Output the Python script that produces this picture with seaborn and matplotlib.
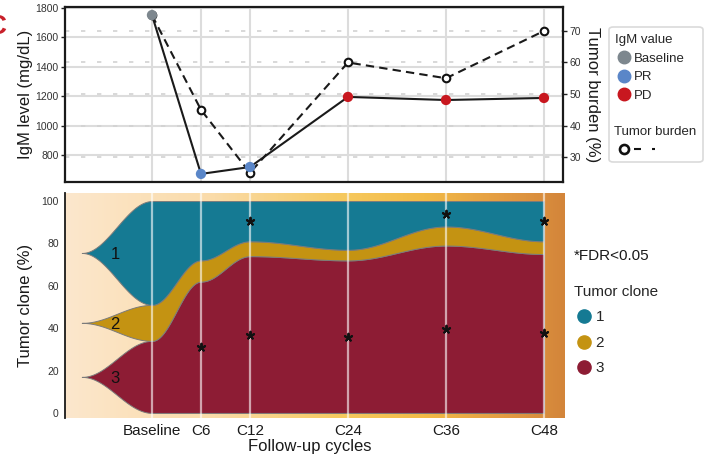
import numpy as np
import pandas as pd
import matplotlib
matplotlib.use("Agg")
import matplotlib.pyplot as plt
import seaborn as sns
from matplotlib.lines import Line2D
from matplotlib.patches import FancyBboxPatch
from matplotlib.legend_handler import HandlerLine2D
from matplotlib.colors import LinearSegmentedColormap
from matplotlib.transforms import blended_transform_factory

# ---- data -------------------------------------------------------------
cycles = ["Baseline", "C6", "C12", "C24", "C36", "C48"]
cycle_pos = [0, 6, 12, 24, 36, 48]

igm_level = [1752, 671, 718, 1195, 1174, 1188]          # mg/dL
igm_status = ["Baseline", "PR", "PR", "PD", "PD", "PD"]
tumor_burden = [75, 45, 25, 60, 55, 70]                 # %

clone1 = [49, 28, 19, 23, 12, 19]                       # % of tumor
clone2 = [17, 10, 7, 5, 9, 6]
clone3 = [34, 62, 74, 72, 79, 75]
clone1_sig = [False, False, True, False, True, True]    # FDR < 0.05
clone3_sig = [False, True, True, True, True, True]

status_palette = {"Baseline": "#7D878E", "PR": "#5A86C8", "PD": "#C8171F"}
clone_colors = {"1": "#157A93", "2": "#C49312", "3": "#8D1C34"}
STREAM_START = -8.6

# ---- style ------------------------------------------------------------
sns.set_style("white")
plt.rcParams["font.family"] = ["Liberation Sans", "DejaVu Sans"]
plt.rcParams["axes.linewidth"] = 1.4

W, H = 711, 461
fig = plt.figure(figsize=(W / 100, H / 100), dpi=100)


def fig_rect(x0, y0, x1, y1):
    return [x0 / W, 1 - y1 / H, (x1 - x0) / W, (y1 - y0) / H]


# ---- top panel: IgM level and tumor burden -----------------------------
ax = fig.add_axes(fig_rect(65, 7, 563, 182))
axb = ax.twinx()
ax.set_zorder(axb.get_zorder() + 1)
ax.patch.set_visible(False)

ax.set_xlim(-10.65, 50.33)
ax.set_ylim(616, 1807)
axb.set_ylim(22.1, 77.6)

igm_ticks = list(range(800, 1801, 200))
burden_ticks = list(range(30, 71, 10))

# grid lines sit on the lower (burden) axes so every line is drawn over them
left_grid = blended_transform_factory(axb.transAxes, ax.transData)
for v in igm_ticks:
    axb.plot([0, 1], [v, v], transform=left_grid, color="#DCDCDC", lw=1.5, zorder=0)
for v in burden_ticks:
    axb.axhline(v, color="#D2D2D2", lw=1.2, ls=(0, (2.6, 7)), zorder=0)
for p in cycle_pos:
    axb.axvline(p, color="#DCDCDC", lw=1.5, zorder=0)

top_df = pd.DataFrame({"pos": cycle_pos, "igm": igm_level,
                       "status": igm_status, "burden": tumor_burden})

sns.lineplot(data=top_df, x="pos", y="burden", ax=axb, color="#1a1a1a",
             lw=1.5, linestyle=(0, (4, 2.5)), sort=False, zorder=3)
sns.scatterplot(data=top_df, x="pos", y="burden", ax=axb, color="white",
                edgecolor="#111111", linewidth=1.5, s=30, zorder=4, legend=False)
sns.lineplot(data=top_df, x="pos", y="igm", ax=ax, color="#1a1a1a",
             lw=1.5, sort=False, zorder=3)
sns.scatterplot(data=top_df, x="pos", y="igm", hue="status",
                palette=status_palette, ax=ax, s=55, edgecolor="none",
                zorder=4, legend=False)

ax.set_xticks(cycle_pos)
ax.set_xticklabels([])
ax.set_yticks(igm_ticks)
axb.set_yticks(burden_ticks)
for a in (ax, axb):
    a.tick_params(axis="both", direction="out", length=3, width=1,
                  color="#222222", labelsize=7.5, labelcolor="#333333", pad=1.5)
    a.set_xlabel("")
for s in ax.spines.values():
    s.set_visible(True)
    s.set_color("#1a1a1a")
    s.set_linewidth(1.6)
for s in axb.spines.values():
    s.set_visible(False)

ax.set_ylabel("IgM level (mg/dL)", fontsize=12, color="#1a1a1a")
ax.yaxis.set_label_coords(-0.064, 0.5)
axb.set_ylabel("Tumor burden (%)", fontsize=12, rotation=270,
               va="bottom", color="#1a1a1a")
axb.yaxis.set_label_coords(1.044, 0.5)

# ---- bottom panel: clonal composition stream ---------------------------
axc = fig.add_axes(fig_rect(65, 193, 565, 418))
axc.set_xlim(-10.65, 50.57)
axc.set_ylim(-2.4, 103.8)

bg_cmap = LinearSegmentedColormap.from_list(
    "bg", [(0.0, "#FCE7CD"), (0.3, "#FADBA8"), (0.55, "#F6C95F"),
           (0.72, "#F2BA47"), (0.88, "#E39B42"), (1.0, "#D3853A")])
axc.imshow(np.linspace(0, 1, 512).reshape(1, -1), extent=[0, 1, 0, 1],
           transform=axc.transAxes, aspect="auto", cmap=bg_cmap, zorder=0)


def eased(xk, yk, n=80):
    """Join consecutive knots with cosine easing."""
    xs, ys = [], []
    last = len(xk) - 2
    for i in range(len(xk) - 1):
        t = np.linspace(0, 1, n, endpoint=(i == last))
        e = (1 - np.cos(np.pi * t)) / 2
        xs.append(xk[i] + (xk[i + 1] - xk[i]) * t)
        ys.append(yk[i] + (yk[i + 1] - yk[i]) * e)
    return np.concatenate(xs), np.concatenate(ys)


c1 = np.array(clone1, float)
c2 = np.array(clone2, float)
c3 = np.array(clone3, float)
b0 = np.zeros_like(c3)
b1 = c3
b2 = c3 + c2
b3 = c3 + c2 + c1

knots_x = [STREAM_START] + cycle_pos
layers = [("3", b0, b1), ("2", b1, b2), ("1", b2, b3)]
for name, lo, hi in layers:
    origin = (lo[0] + hi[0]) / 2
    xs, ylo = eased(knots_x, np.r_[origin, lo])
    _, yhi = eased(knots_x, np.r_[origin, hi])
    axc.fill_between(xs, ylo, yhi, facecolor=clone_colors[name],
                     edgecolor="#7B7B7B", lw=0.7, zorder=2)
    axc.text(-4.5, origin, name, fontsize=12, ha="center",
             va="center_baseline", color="#111111", zorder=4)

for p in cycle_pos:
    axc.axvline(p, color="white", alpha=0.6, lw=1.6, zorder=3)

star_x, star_y = [], []
for i, p in enumerate(cycle_pos):
    if clone1_sig[i]:
        star_x.append(p)
        star_y.append((b2[i] + b3[i]) / 2)
    if clone3_sig[i]:
        star_x.append(p)
        star_y.append((b0[i] + b1[i]) / 2)
axc.scatter(star_x, star_y, marker=(5, 2, 0), s=30, linewidths=1.4,
            color="#111111", zorder=5)

axc.set_xticks(cycle_pos)
axc.set_xticklabels(cycles)
axc.set_yticks(range(0, 101, 20))
axc.tick_params(axis="x", length=0, labelsize=11, pad=4, labelcolor="#1a1a1a")
axc.tick_params(axis="y", direction="out", length=3, width=1, color="#222222",
                labelsize=7.5, labelcolor="#333333", pad=1.5)
for side in ("top", "right", "bottom"):
    axc.spines[side].set_visible(False)
axc.spines["left"].set_color("#1a1a1a")
axc.spines["left"].set_linewidth(1.3)
axc.set_xlabel("Follow-up cycles", fontsize=12, color="#1a1a1a", va="top")
axc.xaxis.set_label_coords(0.49, -0.093)
axc.set_ylabel("Tumor clone (%)", fontsize=12, color="#1a1a1a")
axc.yaxis.set_label_coords(-0.064, 0.5)

# ---- legends ------------------------------------------------------------
frame = FancyBboxPatch((609 / W, 1 - 162 / H), 94 / W, 135 / H,
                       boxstyle="round,pad=0,rounding_size=0.006",
                       transform=fig.transFigure, facecolor="white",
                       edgecolor="#DADADA", lw=1.2, zorder=1)
fig.add_artist(frame)

status_handles = [Line2D([], [], ls="", marker="o", ms=9, mfc=c, mec=c)
                  for c in status_palette.values()]
leg1 = fig.legend(status_handles, list(status_palette.keys()), title="IgM value",
                  loc="upper left", bbox_to_anchor=(615 / W, 1 - 34 / H),
                  frameon=False, fontsize=9.5, title_fontsize=9.5,
                  alignment="left", handlelength=1.3, handletextpad=0.13,
                  labelspacing=0.48, borderpad=0, borderaxespad=0)


class MarkerThenDashes(HandlerLine2D):
    """Open circle on the left followed by a short dashed stroke."""

    def create_artists(self, legend, orig_handle, xdescent, ydescent,
                       width, height, fontsize, trans):
        y = (height - ydescent) / 2
        x_left = -xdescent
        dash = Line2D([x_left + 0.465 * width, x_left + 0.952 * width], [y, y])
        self.update_prop(dash, orig_handle, legend)
        dash.set_marker("None")
        dash.set_linewidth(1.5)
        dash.set_linestyle((0, (3.35, 5.3)))
        dash.set_transform(trans)
        dot = Line2D([x_left + 0.232 * width], [y])
        self.update_prop(dot, orig_handle, legend)
        dot.set_linestyle("None")
        dot.set_transform(trans)
        return [dash, dot]


burden_handle = Line2D([], [], color="#111111", lw=1.5, ls="--",
                       marker="o", ms=6.5, mfc="white", mec="#111111", mew=1.9)
leg2 = fig.legend([burden_handle], [""], title="Tumor burden",
                  loc="upper left", bbox_to_anchor=(614 / W, 1 - 126 / H),
                  frameon=False, fontsize=9.5, title_fontsize=9.5,
                  alignment="left", handlelength=3.26, handletextpad=0,
                  borderpad=0, borderaxespad=0,
                  handler_map={burden_handle: MarkerThenDashes()})

fig.text(574 / W, 1 - 256 / H, "*FDR<0.05", fontsize=11, ha="left",
         va="center", color="#1a1a1a")
clone_handles = [Line2D([], [], ls="", marker="o", ms=9.5, mfc=c, mec=c)
                 for c in clone_colors.values()]
leg3 = fig.legend(clone_handles, list(clone_colors.keys()), title="Tumor clone",
                  loc="upper left", bbox_to_anchor=(574 / W, 1 - 285 / H),
                  frameon=False, fontsize=11, title_fontsize=11,
                  alignment="left", handlelength=1.3, handletextpad=0.1,
                  labelspacing=0.75, borderpad=0, borderaxespad=0)

# panel letter
fig.text(-0.019, 1 - 27 / H, "C", color="#C8202A", fontsize=20,
         fontweight="bold", ha="left", va="center")

fig.savefig("out.png", dpi=100)
